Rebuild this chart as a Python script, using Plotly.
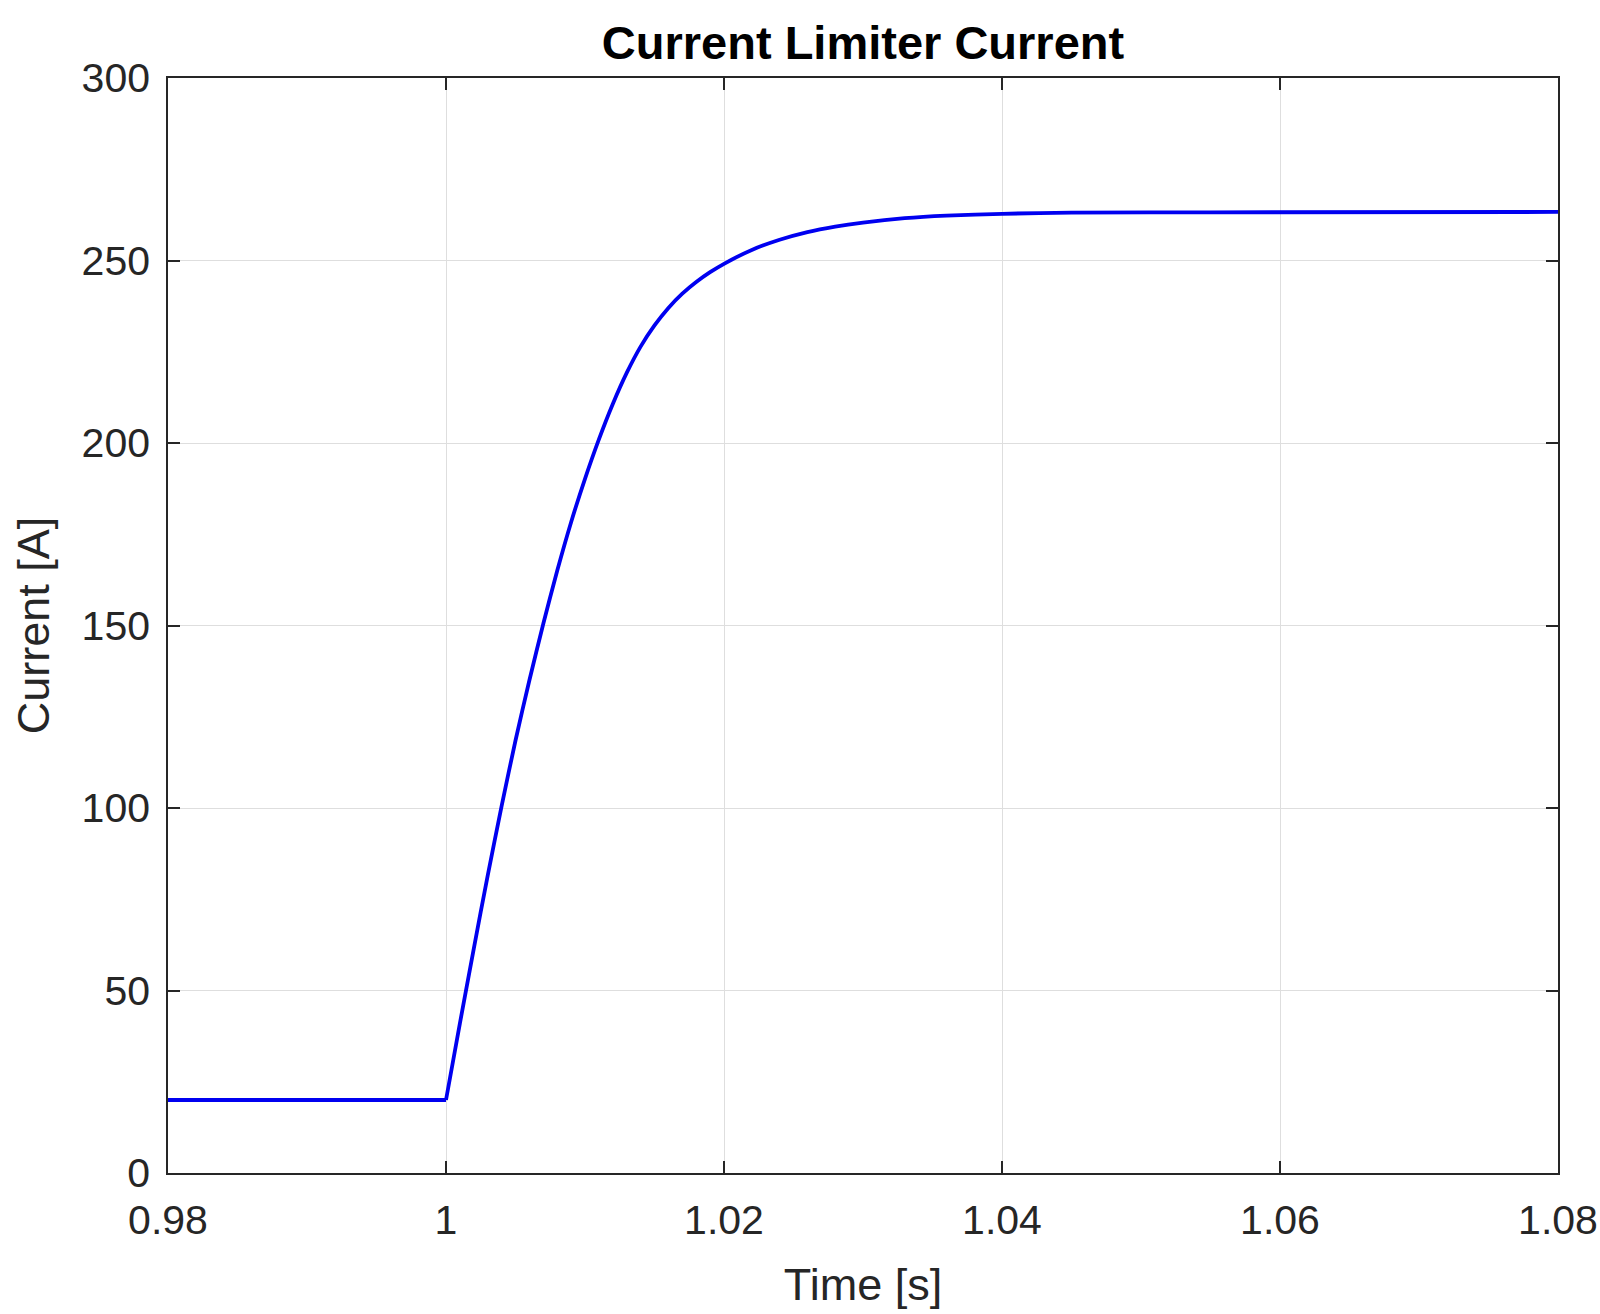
import plotly.graph_objects as go

# Time [s] and current [A]
time_s = [0.98, 1.000, 1.001, 1.002, 1.003, 1.004, 1.005, 1.006, 1.007, 1.008,
          1.009, 1.010, 1.011, 1.012, 1.013, 1.014, 1.015, 1.016, 1.017, 1.018,
          1.019, 1.020, 1.022, 1.024, 1.026, 1.028, 1.030, 1.033, 1.036, 1.040,
          1.045, 1.055, 1.080]
current_a = [20, 20, 41, 61.5, 81.5, 100.5, 118.5, 135, 150.5, 165,
             178.3, 190.2, 201, 210.7, 219.2, 226.4, 232.2, 237.0, 240.9, 244.1,
             246.8, 249.1, 252.9, 255.7, 257.8, 259.3, 260.4, 261.6, 262.3, 262.8,
             263.1, 263.2, 263.3]

x_ticks = [0.98, 1.0, 1.02, 1.04, 1.06, 1.08]
x_tick_labels = ["0.98", "1", "1.02", "1.04", "1.06", "1.08"]
y_ticks = [0, 50, 100, 150, 200, 250, 300]
y_tick_labels = ["0", "50", "100", "150", "200", "250", "300"]

LINE = dict(color="#0000f0", width=3.8)
fig = go.Figure()
# flat pre-step part (straight)
fig.add_trace(go.Scatter(x=time_s[:2], y=current_a[:2], mode="lines",
                         line=LINE, showlegend=False, hoverinfo="x+y"))
# rising response (smoothed through the read points)
fig.add_trace(go.Scatter(x=time_s[1:], y=current_a[1:], mode="lines",
                         line=dict(shape="spline", smoothing=0.7, **LINE),
                         showlegend=False, hoverinfo="x+y"))

FONT = "Liberation Sans, Arial, Helvetica, sans-serif"
axis_common = dict(
    showline=True, linecolor="#262626", linewidth=1.6, mirror="ticks",
    ticks="inside", ticklen=12, tickwidth=1.6, tickcolor="#262626",
    showgrid=True, gridcolor="#dedede", gridwidth=1,
    zeroline=False, automargin=False,
    tickfont=dict(family=FONT, size=41, color="#262626"),
)

fig.update_layout(
    width=1600, height=1314,
    margin=dict(l=168, r=42, t=78, b=141),
    paper_bgcolor="white", plot_bgcolor="white",
    title=dict(text="<b>Current Limiter Current</b>",
               font=dict(family=FONT, size=47, color="#000000"),
               x=0.5, xref="paper", xanchor="center",
               y=1 - 43 / 1314, yref="container", yanchor="middle"),
    xaxis=dict(range=[0.98, 1.08], tickvals=x_ticks, ticktext=x_tick_labels,
               title=dict(text="Time [s]", font=dict(family=FONT, size=45, color="#262626"),
                          standoff=26),
               ticklabelstandoff=10,
               **axis_common),
    yaxis=dict(range=[0, 300], tickvals=y_ticks, ticktext=y_tick_labels,
               title=dict(text="Current [A]", font=dict(family=FONT, size=45, color="#262626"),
                          standoff=18),
               ticklabelstandoff=8,
               **axis_common),
)

fig.write_html("out.html")
